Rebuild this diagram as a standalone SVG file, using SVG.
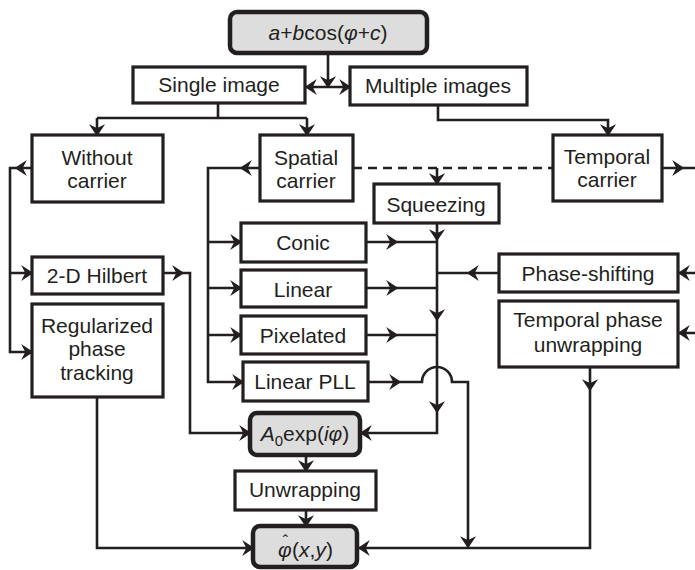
<svg xmlns="http://www.w3.org/2000/svg" xmlns:xlink="http://www.w3.org/1999/xlink" width="695" height="570" viewBox="0 0 695 570">
<style>
.box{fill:#fff;stroke:#231f20;stroke-width:3.2}
.rbox{fill:#dddddd;stroke:#231f20;stroke-width:4.5}
.ln{fill:none;stroke:#231f20;stroke-width:2.6;stroke-linejoin:miter}
.dash{fill:none;stroke:#231f20;stroke-width:2.6;stroke-dasharray:9 6}
.ah{fill:#231f20;stroke:#231f20;stroke-width:1.4;stroke-linejoin:miter}
text{font-family:"Liberation Sans",Arial,sans-serif;font-size:21px;fill:#231f20;text-anchor:middle}
text.st{text-anchor:start}
.i{font-style:italic}
</style>
<defs>
<path id="ah" class="ah" d="M-9,-6 L0,0 L-9,6 L-6,0 Z"/>
</defs>
<rect width="695" height="570" fill="#fff"/>
<g id="connectors">
<path class="ln" d="M328,53 V86"/>
<path class="ln" d="M306,87 H349"/>
<path class="ln" d="M218,103 V118 M97,118 H307 M97,118 V134 M307,118 V134"/>
<path class="ln" d="M438,105 V120 H608 V134"/>
<path class="ln" d="M32,168 H10 V352 H31 M10,273 H31"/>
<path class="ln" d="M260,168 H208 V382 H242 M208,242 H240 M208,288 H240 M208,335 H240"/>
<path class="ln" d="M366,242 H437 M366,288 H437 M366,335 H437"/>
<path class="ln" d="M368,382 H422 A15,15 0 0 1 452,382 H468 V548"/>
<path class="dash" d="M353,168 H553"/>
<path class="ln" d="M437,168 V183"/>
<path class="ln" d="M437,223 V433 H361"/>
<path class="ln" d="M499,273 H437"/>
<path class="ln" d="M662,168 H695 M695,273 H679 M695,333 H679"/>
<path class="ln" d="M590,367 V548 H359"/>
<path class="ln" d="M163,273 H190 V433 H249"/>
<path class="ln" d="M97,397 V548 H252"/>
<path class="ln" d="M306,455 V470 M306,510 V525"/>
<use xlink:href="#ah" transform="translate(328,87) rotate(90)"/>
<use xlink:href="#ah" transform="translate(306,87) rotate(180)"/>
<use xlink:href="#ah" transform="translate(350,87)"/>
<use xlink:href="#ah" transform="translate(97,135) rotate(90)"/>
<use xlink:href="#ah" transform="translate(307,135) rotate(90)"/>
<use xlink:href="#ah" transform="translate(608,135) rotate(90)"/>
<use xlink:href="#ah" transform="translate(16,168) rotate(180)"/>
<use xlink:href="#ah" transform="translate(32,273)"/>
<use xlink:href="#ah" transform="translate(32,352)"/>
<use xlink:href="#ah" transform="translate(241,168) rotate(180)"/>
<use xlink:href="#ah" transform="translate(241,242)"/>
<use xlink:href="#ah" transform="translate(241,288)"/>
<use xlink:href="#ah" transform="translate(241,335)"/>
<use xlink:href="#ah" transform="translate(243,382)"/>
<use xlink:href="#ah" transform="translate(397,242)"/>
<use xlink:href="#ah" transform="translate(397,288)"/>
<use xlink:href="#ah" transform="translate(397,335)"/>
<use xlink:href="#ah" transform="translate(400,382)"/>
<use xlink:href="#ah" transform="translate(437,184) rotate(90)"/>
<use xlink:href="#ah" transform="translate(437,240) rotate(90)"/>
<use xlink:href="#ah" transform="translate(437,320) rotate(90)"/>
<use xlink:href="#ah" transform="translate(437,412) rotate(90)"/>
<use xlink:href="#ah" transform="translate(361,433) rotate(180)"/>
<use xlink:href="#ah" transform="translate(468,273) rotate(180)"/>
<use xlink:href="#ah" transform="translate(683,168)"/>
<use xlink:href="#ah" transform="translate(679,273) rotate(180)"/>
<use xlink:href="#ah" transform="translate(679,333) rotate(180)"/>
<use xlink:href="#ah" transform="translate(590,390) rotate(90)"/>
<use xlink:href="#ah" transform="translate(359,548) rotate(180)"/>
<use xlink:href="#ah" transform="translate(468,547) rotate(90)"/>
<use xlink:href="#ah" transform="translate(183,273)"/>
<use xlink:href="#ah" transform="translate(250,433)"/>
<use xlink:href="#ah" transform="translate(253,548)"/>
<use xlink:href="#ah" transform="translate(306,471) rotate(90)"/>
<use xlink:href="#ah" transform="translate(306,526) rotate(90)"/>
</g>
<g id="n-top"><rect class="rbox" x="230" y="12" width="197" height="41" rx="7"/><text x="328" y="40"><tspan class="i">a</tspan>+<tspan class="i">b</tspan>cos(<tspan class="i">φ</tspan>+<tspan class="i">c</tspan>)</text></g>
<g id="n-single"><rect class="box" x="133" y="67" width="172" height="36"/><text x="219" y="92">Single image</text></g>
<g id="n-multiple"><rect class="box" x="350" y="67" width="177" height="38"/><text x="438" y="93">Multiple images</text></g>
<g id="n-without"><rect class="box" x="32" y="135" width="131" height="67"/><text x="97" y="165">Without</text><text x="97" y="188">carrier</text></g>
<g id="n-spatial"><rect class="box" x="260" y="135" width="93" height="66"/><text x="306" y="165">Spatial</text><text x="306" y="188">carrier</text></g>
<g id="n-temporal"><rect class="box" x="553" y="135" width="109" height="66"/><text x="607" y="164">Temporal</text><text x="607" y="187">carrier</text></g>
<g id="n-squeezing"><rect class="box" x="374" y="184" width="125" height="39"/><text x="436" y="212">Squeezing</text></g>
<g id="n-conic"><rect class="box" x="241" y="223" width="125" height="39"/><text x="303" y="250">Conic</text></g>
<g id="n-linear"><rect class="box" x="241" y="270" width="125" height="37"/><text x="303" y="297">Linear</text></g>
<g id="n-pixelated"><rect class="box" x="241" y="316" width="125" height="38"/><text x="303" y="343">Pixelated</text></g>
<g id="n-linearpll"><rect class="box" x="243" y="362" width="125" height="39"/><text x="305" y="389">Linear PLL</text></g>
<g id="n-hilbert"><rect class="box" x="32" y="257" width="131" height="37"/><text x="97" y="283">2-D Hilbert</text></g>
<g id="n-regularized"><rect class="box" x="32" y="304" width="131" height="93"/><text x="97" y="333">Regularized</text><text x="97" y="356">phase</text><text x="97" y="380">tracking</text></g>
<g id="n-phaseshift"><rect class="box" x="499" y="254" width="179" height="38"/><text x="588" y="281">Phase-shifting</text></g>
<g id="n-tpu"><rect class="box" x="499" y="301" width="179" height="66"/><text x="588" y="327">Temporal phase</text><text x="588" y="352">unwrapping</text></g>
<g id="n-a0"><rect class="rbox" x="250" y="413" width="110" height="42" rx="7"/><text x="305" y="441"><tspan class="i">A</tspan><tspan dy="5" font-size="15">0</tspan><tspan dy="-5">exp(</tspan><tspan class="i">iφ</tspan>)</text></g>
<g id="n-unwrapping"><rect class="box" x="235" y="471" width="141" height="39"/><text x="305" y="497">Unwrapping</text></g>
<g id="n-phihat"><rect class="rbox" x="253" y="526" width="104" height="41" rx="7"/><text class="st" x="278" y="557"><tspan class="i">φ</tspan><tspan dx="-9" dy="-10" font-size="16">ˆ</tspan><tspan dx="4" dy="10">(</tspan><tspan class="i">x</tspan>,<tspan class="i">y</tspan>)</text></g>
</svg>
